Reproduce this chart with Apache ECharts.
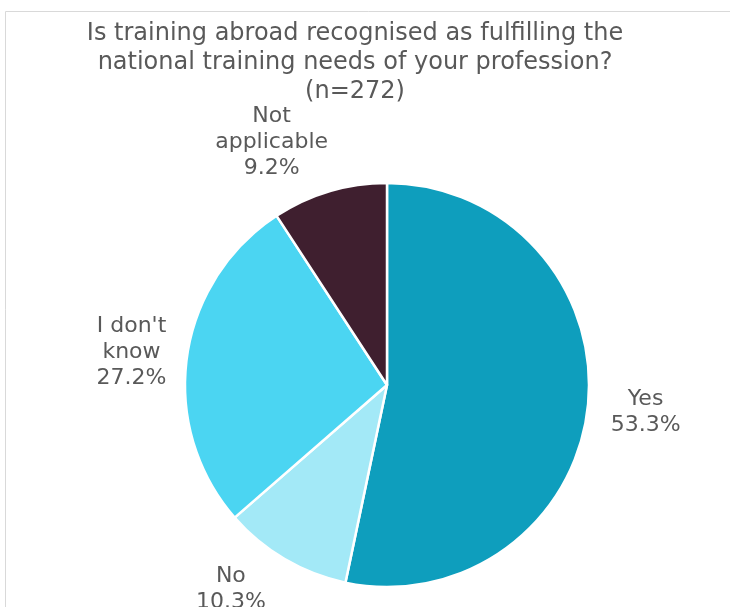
<!DOCTYPE html>
<html>
<head>
<meta charset="utf-8">
<script src="https://cdn.jsdelivr.net/npm/echarts@6/dist/echarts.min.js"></script>
<style>html,body{margin:0;padding:0;background:#fff}#c{width:730px;height:607px}</style>
</head>
<body>
<div id="c"></div>
<script>
const categories = ['Yes', 'No', "I don't know", 'Not applicable'];
const labelNames = ['Yes', 'No', "I don't\nknow", 'Not\napplicable'];
const values = [53.3, 10.3, 27.2, 9.2];
const colors = ['#0e9ebd', '#a3e9f7', '#4bd5f2', '#3f1f2f'];
const labelNudge = [[-1, 0], [-24, -21], [3, 3], [-41, 7]];

const chart = echarts.init(document.getElementById('c'), null, {renderer: 'canvas'});
const pieData = categories.map((c, i) => ({name: c, value: values[i], itemStyle: {color: colors[i]}}));
const labelData = categories.map((c, i) => ({name: c, value: values[i]}));
const font = '"DejaVu Sans"';

chart.setOption({
  animation: false,
  title: {
    text: 'Is training abroad recognised as fulfilling the\nnational training needs of your profession?\n(n=272)',
    left: 355, top: 19, padding: 0, textAlign: 'center',
    textStyle: {fontFamily: font, fontSize: 24, fontWeight: 'normal', color: '#595959', lineHeight: 29}
  },
  graphic: [{
    type: 'rect', shape: {x: 5.5, y: 11.5, width: 800, height: 700},
    style: {fill: 'none', stroke: '#d9d9d9', lineWidth: 1}, silent: true, z: -10
  }],
  series: [{
    type: 'pie', center: [387, 385], radius: [0, 202], startAngle: 90, clockwise: true,
    data: pieData, label: {show: false}, labelLine: {show: false},
    itemStyle: {borderColor: '#ffffff', borderWidth: 2.5}, silent: true
  }, {
    type: 'pie', center: [387, 385], radius: [0, 516], startAngle: 90, clockwise: true,
    data: labelData, silent: true,
    itemStyle: {color: 'rgba(0,0,0,0)', borderWidth: 0},
    labelLine: {show: false},
    label: {
      show: true, position: 'inside',
      fontFamily: font, fontSize: 22, color: '#595959', lineHeight: 26, align: 'center',
      formatter: p => labelNames[p.dataIndex] + '\n' + values[p.dataIndex].toFixed(1) + '%'
    },
    labelLayout: p => ({dx: labelNudge[p.dataIndex][0], dy: labelNudge[p.dataIndex][1]})
  }]
});
</script>
</body>
</html>
